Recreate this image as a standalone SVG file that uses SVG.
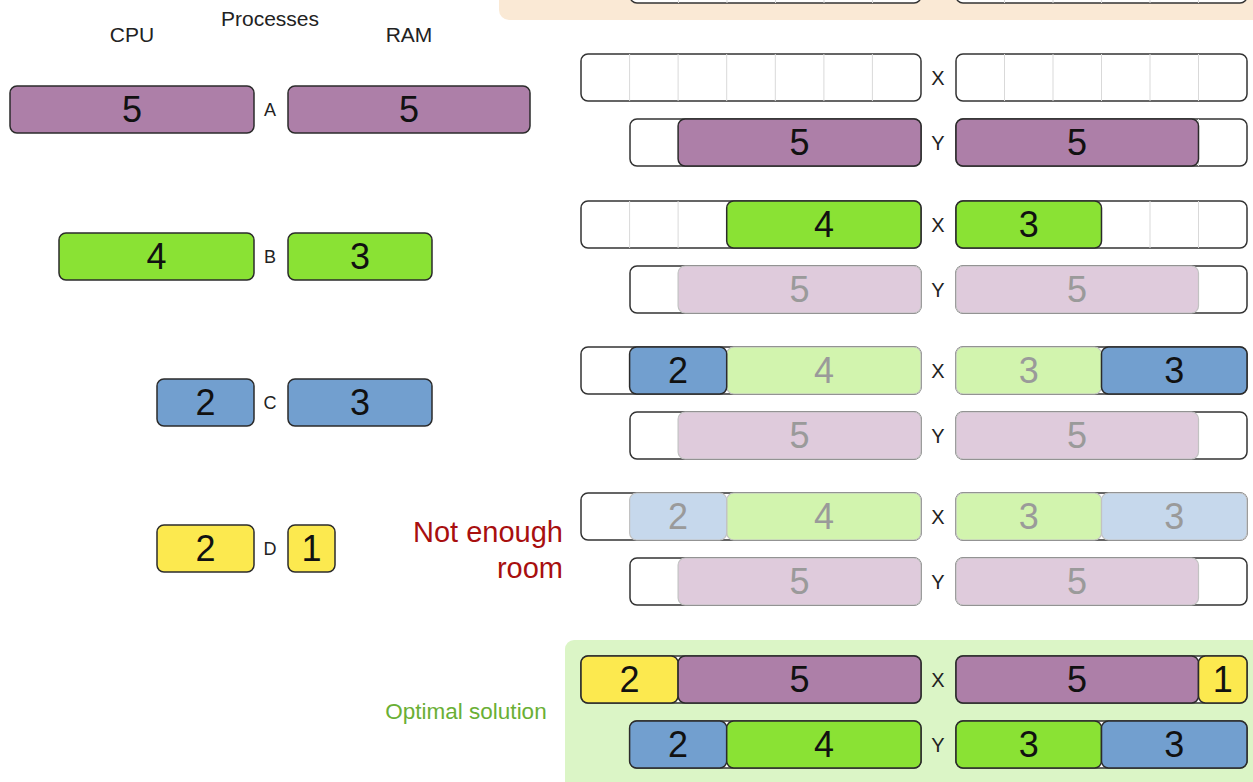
<svg xmlns="http://www.w3.org/2000/svg" width="1253" height="782" viewBox="0 0 1253 782">
<style>
.bg{fill:#ffffff}
.box{fill:#ffffff;stroke:#333333;stroke-width:1.5}
.grid{stroke:#d9d9d9;stroke-width:1}
.blk{stroke:#2b2b2b;stroke-width:1.5}
.fad{stroke:#c2c2c2;stroke-width:1.2}
.p{fill:#ad7fa8}.g{fill:#8ae234}.b{fill:#729fcf}.y{fill:#fce94f}
.pf{fill:#dfcbdc}.gf{fill:#d2f4ae}.bf{fill:#c6d8ec}
.num{font-family:"Liberation Sans",Arial,sans-serif;font-size:36px;text-anchor:middle;fill:#111111}
.numf{fill:#9a9a9a}
.lbl{font-family:"Liberation Sans",Arial,sans-serif;font-size:18px;text-anchor:middle;fill:#222222}
.xy{font-size:20px}
.hdr{font-family:"Liberation Sans",Arial,sans-serif;font-size:21px;text-anchor:middle;fill:#222222}
.red{font-family:"Liberation Sans",Arial,sans-serif;font-size:29px;text-anchor:end;fill:#a80f0f}
.opt{font-family:"Liberation Sans",Arial,sans-serif;font-size:22.5px;text-anchor:middle;fill:#6aaf35}
</style>
<rect class="bg" x="0" y="0" width="1253" height="782"/>

<!-- panels -->
<g id="panel-top">
<rect x="499" y="-30" width="780" height="50" rx="10" fill="#fae9d5"/>
<rect class="box" x="630" y="-44" width="291" height="47" rx="7"/>
<path class="grid" d="M678.5 -44V3M727 -44V3M775.5 -44V3M824 -44V3M872.5 -44V3"/>
<rect class="box" x="956" y="-44" width="291" height="47" rx="7"/>
<path class="grid" d="M1004.5 -44V3M1053 -44V3M1101.5 -44V3M1150 -44V3M1198.5 -44V3"/>
</g>
<g id="panel-optimal">
<rect x="565" y="640" width="720" height="160" rx="9" fill="#dbf5c6"/>
</g>

<!-- headers -->
<g id="headers">
<text class="hdr" x="132" y="42">CPU</text>
<text class="hdr" x="270" y="26">Processes</text>
<text class="hdr" x="409" y="42">RAM</text>
</g>

<!-- processes -->
<g id="process-A">
<rect class="blk p" x="10" y="86" width="244" height="47" rx="7"/>
<text class="num" x="132" y="122">5</text>
<text class="lbl" x="270" y="116">A</text>
<rect class="blk p" x="288" y="86" width="242" height="47" rx="7"/>
<text class="num" x="409" y="122">5</text>
</g>
<g id="process-B">
<rect class="blk g" x="59" y="233" width="195" height="47" rx="7"/>
<text class="num" x="156.5" y="269">4</text>
<text class="lbl" x="270" y="263">B</text>
<rect class="blk g" x="288" y="233" width="144" height="47" rx="7"/>
<text class="num" x="360" y="269">3</text>
</g>
<g id="process-C">
<rect class="blk b" x="157" y="379" width="97" height="47" rx="7"/>
<text class="num" x="205.5" y="415">2</text>
<text class="lbl" x="270" y="409">C</text>
<rect class="blk b" x="288" y="379" width="144" height="47" rx="7"/>
<text class="num" x="360" y="415">3</text>
</g>
<g id="process-D">
<rect class="blk y" x="157" y="525" width="97" height="47" rx="7"/>
<text class="num" x="205.5" y="561">2</text>
<text class="lbl" x="270" y="555">D</text>
<rect class="blk y" x="288" y="525" width="47" height="47" rx="7"/>
<text class="num" x="311.5" y="561">1</text>
</g>

<!-- step 1 -->
<g id="step1-X">
<rect class="box" x="581" y="54" width="340" height="47" rx="7"/>
<path class="grid" d="M629.6 54V101M678.1 54V101M726.7 54V101M775.3 54V101M823.9 54V101M872.4 54V101"/>
<text class="lbl xy" x="938" y="85">X</text>
<rect class="box" x="956" y="54" width="291" height="47" rx="7"/>
<path class="grid" d="M1004.5 54V101M1053 54V101M1101.5 54V101M1150 54V101M1198.5 54V101"/>
</g>
<g id="step1-Y">
<rect class="box" x="630" y="119" width="291" height="47" rx="7"/>
<rect class="blk p" x="678.1" y="119" width="242.9" height="47" rx="7"/>
<text class="num" x="799.5" y="155">5</text>
<text class="lbl xy" x="938" y="150">Y</text>
<rect class="box" x="956" y="119" width="291" height="47" rx="7"/>
<path class="grid" d="M1198.5 119V166"/>
<rect class="blk p" x="956" y="119" width="242.5" height="47" rx="7"/>
<text class="num" x="1077" y="155">5</text>
</g>

<!-- step 2 -->
<g id="step2-X">
<rect class="box" x="581" y="201" width="340" height="47" rx="7"/>
<path class="grid" d="M629.6 201V248M678.1 201V248"/>
<rect class="blk g" x="726.7" y="201" width="194.3" height="47" rx="7"/>
<text class="num" x="823.9" y="237">4</text>
<text class="lbl xy" x="938" y="232">X</text>
<rect class="box" x="956" y="201" width="291" height="47" rx="7"/>
<path class="grid" d="M1150 201V248M1198.5 201V248"/>
<rect class="blk g" x="956" y="201" width="145.5" height="47" rx="7"/>
<text class="num" x="1028.7" y="237">3</text>
</g>
<g id="step2-Y">
<rect class="box" x="630" y="266" width="291" height="47" rx="7"/>
<rect class="fad pf" x="678.1" y="266" width="242.9" height="47" rx="7"/>
<text class="num numf" x="799.5" y="302">5</text>
<text class="lbl xy" x="938" y="297">Y</text>
<rect class="box" x="956" y="266" width="291" height="47" rx="7"/>
<rect class="fad pf" x="956" y="266" width="242.5" height="47" rx="7"/>
<text class="num numf" x="1077" y="302">5</text>
</g>

<!-- step 3 -->
<g id="step3-X">
<rect class="box" x="581" y="347" width="340" height="47" rx="7"/>
<rect class="fad gf" x="726.7" y="347" width="194.3" height="47" rx="7"/>
<text class="num numf" x="823.9" y="383">4</text>
<rect class="blk b" x="629.6" y="347" width="97.1" height="47" rx="7"/>
<text class="num" x="678.1" y="383">2</text>
<text class="lbl xy" x="938" y="378">X</text>
<rect class="box" x="956" y="347" width="291" height="47" rx="7"/>
<rect class="fad gf" x="956" y="347" width="145.5" height="47" rx="7"/>
<text class="num numf" x="1028.7" y="383">3</text>
<rect class="blk b" x="1101.5" y="347" width="145.5" height="47" rx="7"/>
<text class="num" x="1174.2" y="383">3</text>
</g>
<g id="step3-Y">
<rect class="box" x="630" y="412" width="291" height="47" rx="7"/>
<rect class="fad pf" x="678.1" y="412" width="242.9" height="47" rx="7"/>
<text class="num numf" x="799.5" y="448">5</text>
<text class="lbl xy" x="938" y="443">Y</text>
<rect class="box" x="956" y="412" width="291" height="47" rx="7"/>
<rect class="fad pf" x="956" y="412" width="242.5" height="47" rx="7"/>
<text class="num numf" x="1077" y="448">5</text>
</g>

<!-- step 4 -->
<g id="step4-note">
<text class="red" x="563" y="542">Not enough</text>
<text class="red" x="563" y="578">room</text>
</g>
<g id="step4-X">
<rect class="box" x="581" y="493" width="340" height="47" rx="7"/>
<rect class="fad gf" x="726.7" y="493" width="194.3" height="47" rx="7"/>
<text class="num numf" x="823.9" y="529">4</text>
<rect class="fad bf" x="629.6" y="493" width="97.1" height="47" rx="7"/>
<text class="num numf" x="678.1" y="529">2</text>
<text class="lbl xy" x="938" y="524">X</text>
<rect class="box" x="956" y="493" width="291" height="47" rx="7"/>
<rect class="fad gf" x="956" y="493" width="145.5" height="47" rx="7"/>
<text class="num numf" x="1028.7" y="529">3</text>
<rect class="fad bf" x="1101.5" y="493" width="145.5" height="47" rx="7"/>
<text class="num numf" x="1174.2" y="529">3</text>
</g>
<g id="step4-Y">
<rect class="box" x="630" y="558" width="291" height="47" rx="7"/>
<rect class="fad pf" x="678.1" y="558" width="242.9" height="47" rx="7"/>
<text class="num numf" x="799.5" y="594">5</text>
<text class="lbl xy" x="938" y="589">Y</text>
<rect class="box" x="956" y="558" width="291" height="47" rx="7"/>
<rect class="fad pf" x="956" y="558" width="242.5" height="47" rx="7"/>
<text class="num numf" x="1077" y="594">5</text>
</g>

<!-- optimal -->
<g id="optimal-label">
<text class="opt" x="466" y="719">Optimal solution</text>
</g>
<g id="optimal-X">
<rect class="box" x="581" y="656" width="340" height="47" rx="7"/>
<rect class="blk y" x="581" y="656" width="97.1" height="47" rx="7"/>
<text class="num" x="629.6" y="692">2</text>
<rect class="blk p" x="678.1" y="656" width="242.9" height="47" rx="7"/>
<text class="num" x="799.5" y="692">5</text>
<text class="lbl xy" x="938" y="687">X</text>
<rect class="box" x="956" y="656" width="291" height="47" rx="7"/>
<rect class="blk p" x="956" y="656" width="242.5" height="47" rx="7"/>
<text class="num" x="1077" y="692">5</text>
<rect class="blk y" x="1198.5" y="656" width="48.5" height="47" rx="7"/>
<text class="num" x="1222.7" y="692">1</text>
</g>
<g id="optimal-Y">
<rect class="box" x="630" y="721" width="291" height="47" rx="7"/>
<rect class="blk b" x="629.6" y="721" width="97.1" height="47" rx="7"/>
<text class="num" x="678.1" y="757">2</text>
<rect class="blk g" x="726.7" y="721" width="194.3" height="47" rx="7"/>
<text class="num" x="823.9" y="757">4</text>
<text class="lbl xy" x="938" y="752">Y</text>
<rect class="box" x="956" y="721" width="291" height="47" rx="7"/>
<rect class="blk g" x="956" y="721" width="145.5" height="47" rx="7"/>
<text class="num" x="1028.7" y="757">3</text>
<rect class="blk b" x="1101.5" y="721" width="145.5" height="47" rx="7"/>
<text class="num" x="1174.2" y="757">3</text>
</g>

<g id="connectors"></g>
</svg>
